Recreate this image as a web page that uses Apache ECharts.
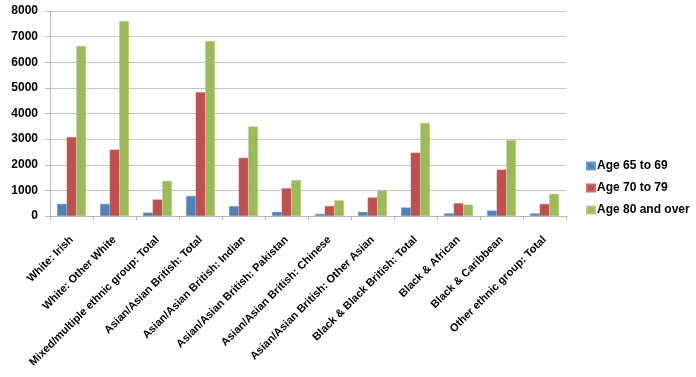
<!DOCTYPE html>
<html>
<head>
<meta charset="utf-8">
<script src="https://cdn.jsdelivr.net/npm/echarts@6/dist/echarts.min.js"></script>
<style>
  html, body { margin: 0; padding: 0; background: #fff; }
  #chart { width: 696px; height: 377px; }
</style>
</head>
<body>
<div id="chart"></div>
<script>
var categories = [
    'White: Irish',
    'White: Other White',
    'Mixed/multiple ethnic group: Total',
    'Asian/Asian British: Total',
    'Asian/Asian British: Indian',
    'Asian/Asian British: Pakistan',
    'Asian/Asian British: Chinese',
    'Asian/Asian British: Other Asian',
    'Black & Black British: Total',
    'Black & African',
    'Black & Caribbean',
    'Other ethnic group: Total'
];
var seriesNames = ['Age 65 to 69', 'Age 70 to 79', 'Age 80 and over'];
var age65to69 = [470, 470, 130, 780, 380, 160, 80, 160, 330, 100, 210, 100];
var age70to79 = [3080, 2590, 640, 4830, 2270, 1080, 390, 720, 2470, 500, 1810, 470];
var age80plus = [6630, 7610, 1370, 6830, 3490, 1400, 610, 990, 3630, 440, 2960, 860];
var yTicks = [0, 1000, 2000, 3000, 4000, 5000, 6000, 7000, 8000];

var colors = ['#4F81BD', '#C0504D', '#9BBB59'];
var borders = ['#6f97c9', '#cc6f6c', '#b0cc7c'];
var font = '"Liberation Sans", Arial, sans-serif';

var chart = echarts.init(document.getElementById('chart'));

var allData = [age65to69, age70to79, age80plus];
var series = allData.map(function (d, i) {
    return {
        name: seriesNames[i],
        type: 'bar',
        data: d,
        barGap: '0%',
        barCategoryGap: '33%',
        itemStyle: { color: colors[i], borderColor: borders[i], borderWidth: 0.5 }
    };
});

var option = {
    animation: false,
    color: colors,
    textStyle: { fontFamily: font },
    grid: { left: 50, right: 130, top: 11, bottom: 161 },
    legend: {
        orient: 'vertical',
        left: 586,
        top: 160,
        padding: 0,
        itemWidth: 8,
        itemHeight: 7,
        itemGap: 10,
        icon: 'rect',
        textStyle: { fontFamily: font, fontWeight: 'bold', fontSize: 12, color: '#000', padding: [0, 0, 0, -3] },
        data: seriesNames
    },
    xAxis: {
        type: 'category',
        data: categories,
        axisLine: { lineStyle: { color: '#b8b8b8', width: 1 } },
        axisTick: { show: true, alignWithLabel: false, length: 4, lineStyle: { color: '#b8b8b8' } },
        axisLabel: {
            interval: 0,
            rotate: 45,
            margin: 22,
            fontFamily: font,
            fontWeight: 'bold',
            fontSize: 11,
            color: '#000'
        }
    },
    yAxis: {
        type: 'value',
        min: yTicks[0],
        max: yTicks[yTicks.length - 1],
        interval: 1000,
        axisLine: { show: true, lineStyle: { color: '#b8b8b8', width: 1 } },
        axisTick: { show: true, length: 5, lineStyle: { color: '#b8b8b8' } },
        splitLine: { lineStyle: { color: '#c4c4c4', width: 1 } },
        axisLabel: {
            margin: 12,
            fontFamily: font,
            fontWeight: 'bold',
            fontSize: 12,
            color: '#000',
            formatter: function (v) { return String(v); }
        }
    },
    series: series
};

chart.setOption(option);
</script>
</body>
</html>
